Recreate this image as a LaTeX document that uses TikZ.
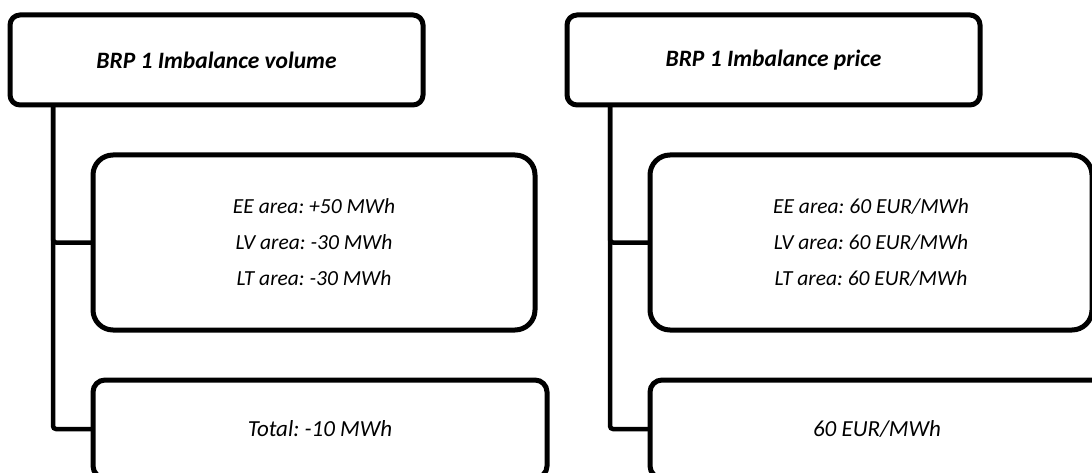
\documentclass[tikz,border=0pt]{standalone}
\usepackage{fontspec}
\setmainfont{Carlito}
\frenchspacing
\usepackage{tikz}
\usetikzlibrary{positioning, calc}

\begin{document}
\begin{tikzpicture}[
  x=1pt, y=-1pt,
  headbox/.style={rectangle, draw, line width=5pt, rounded corners=10pt, outer sep=0pt,
                  minimum width=413pt, minimum height=90pt,
                  font=\fontsize{23.5}{28}\selectfont\bfseries\itshape},
  areabox/.style={rectangle, draw, line width=5pt, rounded corners=20pt, outer sep=0pt,
                  minimum width=442pt, minimum height=175pt, align=center,
                  font=\fontsize{21.5}{36}\selectfont\itshape},
  sumbox/.style={rectangle, draw, line width=5pt, rounded corners=12pt, outer sep=0pt,
                 minimum width=454pt, minimum height=98pt,
                 font=\fontsize{23}{28}\selectfont\itshape},
  rail/.style={line width=4.5pt, rounded corners=3pt}
]
  \useasboundingbox (0,0) rectangle (1092,473);
  \clip (0,0) rectangle (1092,473);

  % Left column: volume
  \node[headbox] (vol) at (216.5, 60) {BRP 1 Imbalance volume};
  \node[areabox] (volarea) at (314, 242.5)
    {EE area: +50 MWh\\LV area: -30 MWh\\LT area: -30 MWh};
  \node[sumbox] (voltotal) at (320, 429) {Total: -10 MWh};

  \draw[rail] ([xshift=43pt]vol.south west) |- (volarea.west);
  \draw[rail] ([xshift=43pt]vol.south west) |- (voltotal.west);

  % Right column: price
  \node[headbox] (price) at (773.5, 60) {BRP 1 Imbalance price};
  \node[areabox] (pricearea) at (871, 242.5)
    {EE area: 60 EUR/MWh\\LV area: 60 EUR/MWh\\LT area: 60 EUR/MWh};
  \node[sumbox] (pricetotal) at (877, 429) {60 EUR/MWh};

  \draw[rail] ([xshift=43pt]price.south west) |- (pricearea.west);
  \draw[rail] ([xshift=43pt]price.south west) |- (pricetotal.west);
\end{tikzpicture}
\end{document}
